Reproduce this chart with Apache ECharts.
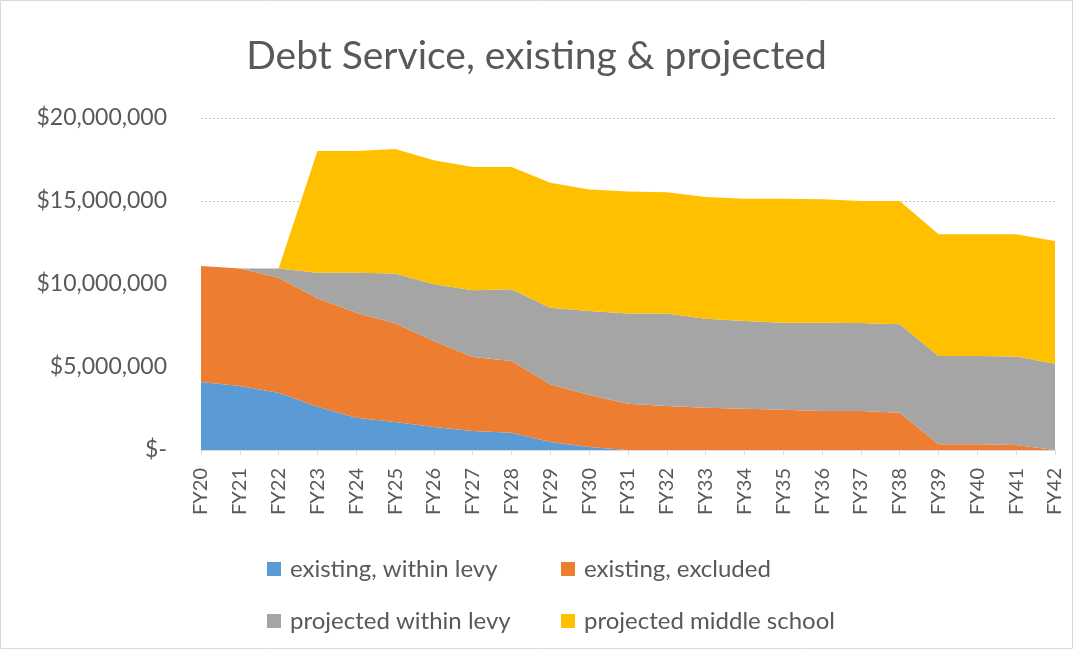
<!DOCTYPE html>
<html>
<head>
<meta charset="utf-8">
<script src="https://cdn.jsdelivr.net/npm/echarts@6/dist/echarts.min.js"></script>
<style>
  html, body { margin: 0; padding: 0; background: #ffffff; }
  #chart { width: 1073px; height: 649px; }
</style>
</head>
<body>
<div id="chart"></div>
<script>
// Fiscal years on the horizontal axis
const years = ['FY20','FY21','FY22','FY23','FY24','FY25','FY26','FY27','FY28','FY29','FY30','FY31',
               'FY32','FY33','FY34','FY35','FY36','FY37','FY38','FY39','FY40','FY41','FY42'];

// Annual debt service by category, in dollars
const existingWithinLevy = [4100000,3860000,3450000,2600000,1950000,1690000,1390000,1140000,1040000,480000,180000,0,
                            0,0,0,0,0,0,0,0,0,0,0];
const existingExcluded   = [6980000,7080000,6930000,6540000,6320000,5940000,5180000,4460000,4320000,3480000,3130000,2780000,
                            2650000,2550000,2490000,2430000,2350000,2350000,2250000,340000,340000,300000,0];
const projectedWithinLevy = [0,0,560000,1540000,2410000,3010000,3410000,4020000,4320000,4610000,5060000,5440000,
                             5580000,5360000,5280000,5240000,5320000,5300000,5320000,5320000,5320000,5340000,5200000];
const projectedMiddleSchool = [0,0,0,7330000,7330000,7490000,7470000,7430000,7370000,7530000,7330000,7350000,
                               7290000,7330000,7370000,7470000,7430000,7350000,7430000,7340000,7340000,7360000,7390000];

const seriesNames = ['existing, within levy','existing, excluded','projected within levy','projected middle school'];
const seriesColors = ['#5B9BD5','#ED7D31','#A5A5A5','#FFC000'];
const seriesData = [existingWithinLevy, existingExcluded, projectedWithinLevy, projectedMiddleSchool];

const FONT = 'Lato, "Open Sans", sans-serif';
const TEXT = '#595959';

function money(v) {
  if (v === 0) return '$-';
  return '$' + v.toLocaleString('en-US');
}

const legendPos = [
  { left: 262, top: 552 },
  { left: 556, top: 552 },
  { left: 262, top: 604 },
  { left: 556, top: 604 }
];

const chart = echarts.init(document.getElementById('chart'), null, { renderer: 'canvas' });
chart.setOption({
  animation: false,
  backgroundColor: '#ffffff',
  title: {
    text: 'Debt Service, existing & projected',
    left: 'center',
    top: 32,
    textStyle: { fontFamily: FONT, fontSize: 39, fontWeight: 'normal', color: TEXT }
  },
  graphic: [{
    type: 'rect',
    shape: { x: 0.5, y: 0.5, width: 1072, height: 648 },
    style: { fill: 'none', stroke: '#d9d9d9', lineWidth: 1 },
    silent: true
  }],
  legend: seriesNames.map((name, i) => ({
    data: [name],
    left: legendPos[i].left,
    top: legendPos[i].top,
    icon: 'rect',
    itemWidth: 14,
    itemHeight: 14,
    itemGap: 0,
    selectedMode: false,
    textStyle: { fontFamily: FONT, fontSize: 24, color: TEXT, padding: [0, 0, 0, 4] }
  })),
  grid: { left: 201, right: 18, top: 118, bottom: 199, containLabel: false },
  xAxis: {
    type: 'category',
    data: years,
    boundaryGap: false,
    axisLine: { lineStyle: { color: '#d9d9d9' } },
    axisTick: { show: true, alignWithLabel: true, length: 5, lineStyle: { color: '#d9d9d9' } },
    axisLabel: { rotate: 90, interval: 0, margin: 18, fontFamily: FONT, fontSize: 20, color: TEXT },
    splitLine: { show: false }
  },
  yAxis: {
    type: 'value',
    min: 0,
    max: 20000000,
    interval: 5000000,
    axisLine: { show: false },
    axisTick: { show: false },
    axisLabel: { formatter: money, margin: 34, fontFamily: FONT, fontSize: 23, color: TEXT },
    splitLine: { lineStyle: { color: '#bfbfbf', type: [2, 2], width: 1 } }
  },
  series: seriesNames.map((name, i) => ({
    name: name,
    type: 'line',
    stack: 'debt',
    data: seriesData[i],
    symbol: 'none',
    color: seriesColors[i],
    lineStyle: { width: 0 },
    areaStyle: { color: seriesColors[i], opacity: 1 },
    z: 2
  }))
});
</script>
</body>
</html>
